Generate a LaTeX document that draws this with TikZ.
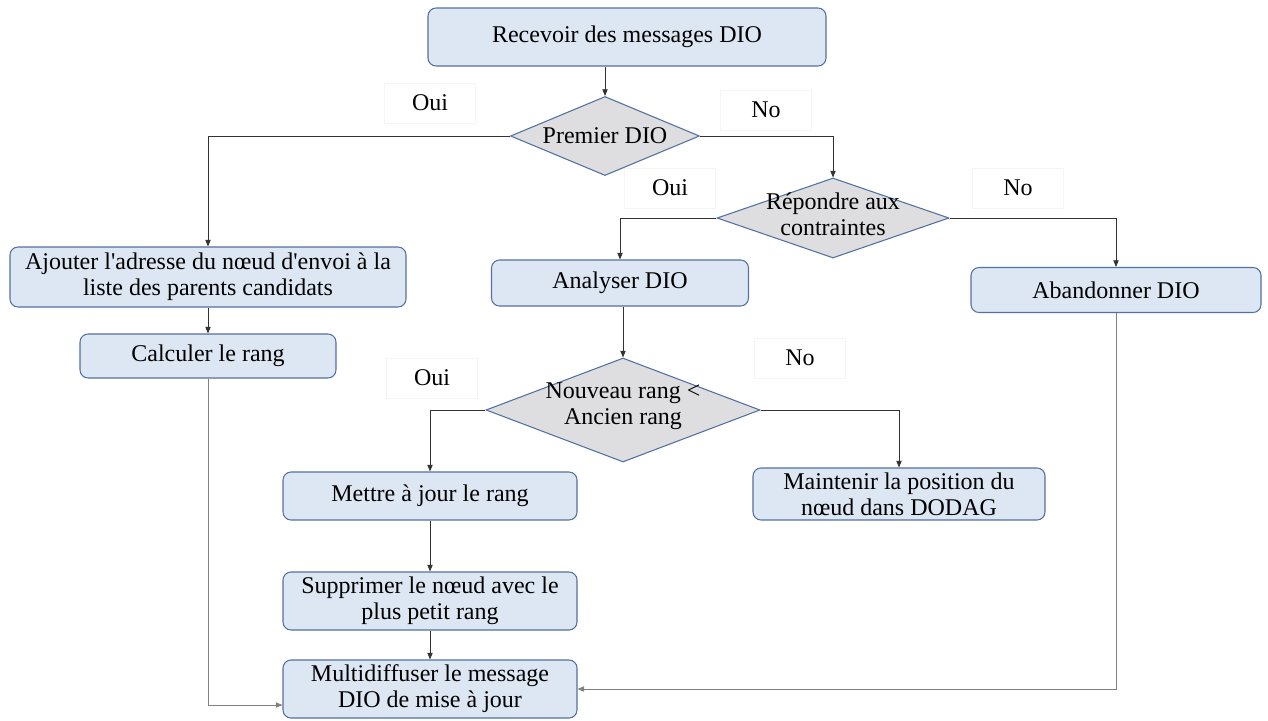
\documentclass[tikz,border=0pt]{standalone}
\usepackage{fontspec}
\setmainfont{Liberation Serif}
\usetikzlibrary{shapes.geometric,arrows.meta}
\definecolor{boxfill}{RGB}{221,231,243}
\definecolor{boxline}{RGB}{84,112,160}
\definecolor{decfill}{RGB}{222,222,224}
\begin{document}
\begin{tikzpicture}[x=0.75pt,y=-0.75pt,
  every node/.style={font=\fontsize{18}{19.5}\selectfont},
  procbox/.style={draw=boxline, line width=0.8pt, fill=boxfill,
    rounded corners=6pt, inner sep=0pt, align=center},
  decision/.style={diamond, draw=boxline, line width=0.8pt, fill=decfill,
    inner sep=0pt, aspect=2.4},
  answer/.style={draw=black!4, fill=white, inner sep=0pt, minimum width=68pt, minimum height=30pt},
  flow/.style={draw=black!80, line width=0.6pt, -{Triangle[length=5pt,width=4pt]}},
  back/.style={flow, draw=black!50}]
\useasboundingbox (0,0) rectangle (1268,721);

% process steps
\node[procbox, minimum width=298.5pt, minimum height=43.5pt] (recv) at (627,37) {Recevoir des messages DIO};
\node[procbox, minimum width=297pt, minimum height=45pt] (ajout) at (208,277) {Ajouter l\textquotesingle adresse du nœud d\textquotesingle envoi à la\\liste des parents candidats};
\node[procbox, minimum width=192pt, minimum height=33pt] (calc) at (208,356) {Calculer le rang};
\node[procbox, minimum width=192.75pt, minimum height=34.5pt] (analyse) at (620,283) {Analyser DIO};
\node[procbox, minimum width=217.5pt, minimum height=33.75pt] (aband) at (1116,290) {Abandonner DIO};
\node[procbox, minimum width=220.5pt, minimum height=36pt] (maj) at (430,496) {Mettre à jour le rang};
\node[procbox, minimum width=219pt, minimum height=39pt] (maint) at (899,494) {Maintenir la position du\\nœud dans DODAG};
\node[procbox, minimum width=220.5pt, minimum height=43.5pt] (suppr) at (430,601) {Supprimer le nœud avec le\\plus petit rang};
\node[procbox, minimum width=220.5pt, minimum height=43.5pt] (multi) at (430,689) {Multidiffuser le message\\DIO de mise à jour};

% decisions
\node[decision, minimum width=141.75pt, minimum height=59.25pt,
  label={center:Premier DIO}] (premier) at (605,136) {};
\node[decision, minimum width=174pt, minimum height=60pt,
  label={[align=center, yshift=3pt]center:Répondre aux\\contraintes}] (repond) at (833,218) {};
\node[decision, minimum width=205.5pt, minimum height=78pt,
  label={[align=center, yshift=3pt]center:Nouveau rang <\\Ancien rang}] (nouveau) at (623,410) {};

% branch answers
\node[answer] (oui1) at (430,103) {Oui};
\node[answer] (non1) at (766,110) {No};
\node[answer] (oui2) at (670,188) {Oui};
\node[answer] (non2) at (1018,188) {No};
\node[answer] (oui3) at (432,378) {Oui};
\node[answer] (non3) at (800,358) {No};

% connectors
\draw[flow] (recv.south -| premier.north) -- (premier.north);
\draw[flow] (premier.west) -| (ajout.north);
\draw[flow] (premier.east) -| (repond.north);
\draw[flow] (ajout.south) -- (calc.north);
\draw[flow] (repond.west) -| (analyse.north);
\draw[flow] (repond.east) -| (aband.north);
\draw[flow] (analyse.south -| nouveau.north) -- (nouveau.north);
\draw[flow] (nouveau.west) -| (maj.north);
\draw[flow] (nouveau.east) -| (maint.north);
\draw[flow] (maj.south) -- (suppr.north);
\draw[flow] (suppr.south) -- (multi.north);
\draw[back] (calc.south) |- ([yshift=-12pt]multi.west);
\draw[back] (aband.south) |- (multi.east);
\end{tikzpicture}
\end{document}
